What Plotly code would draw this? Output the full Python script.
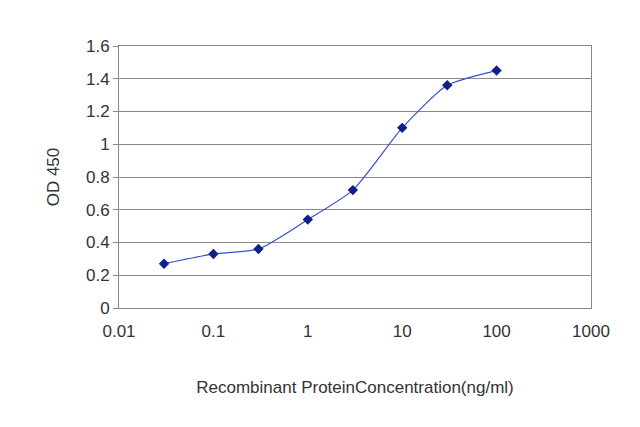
import plotly.graph_objects as go

conc = [0.03, 0.1, 0.3, 1, 3, 10, 30, 100]
od = [0.27, 0.33, 0.36, 0.54, 0.72, 1.10, 1.36, 1.45]
xticks = [0.01, 0.1, 1, 10, 100, 1000]
xticklabels = ["0.01", "0.1", "1", "10", "100", "1000"]
yticks = [0, 0.2, 0.4, 0.6, 0.8, 1, 1.2, 1.4, 1.6]
yticklabels = ["0", "0.2", "0.4", "0.6", "0.8", "1", "1.2", "1.4", "1.6"]

fig = go.Figure(go.Scatter(
    x=conc, y=od, mode="lines+markers",
    line=dict(color="#3a4fd0", width=1.2, shape="spline", smoothing=0.6),
    marker=dict(symbol="diamond", size=8, color="#10208a"),
))
fig.update_layout(
    width=640, height=427, paper_bgcolor="white", plot_bgcolor="white",
    margin=dict(l=111, r=57, t=38, b=127), showlegend=False,
    font=dict(family="Liberation Sans, Arial", size=17, color="#333"),
    xaxis=dict(type="log", range=[-2, 3], tickvals=xticks, ticktext=xticklabels,
               showgrid=False, showline=True, linecolor="#888", mirror=True,
               ticks="outside", ticklen=8, tickcolor="rgba(0,0,0,0)",
               title=dict(text="Recombinant ProteinConcentration(ng/ml)", standoff=40,
                          font=dict(size=17))),
    yaxis=dict(range=[0, 1.6], tickvals=yticks, ticktext=yticklabels,
               showgrid=True, gridcolor="#888", gridwidth=1,
               showline=True, linecolor="#888", mirror=True, zeroline=False,
               ticks="outside", ticklen=5, tickcolor="#888",
               title=dict(text="OD 450", standoff=22, font=dict(size=17))),
)
fig.write_html("out.html")
